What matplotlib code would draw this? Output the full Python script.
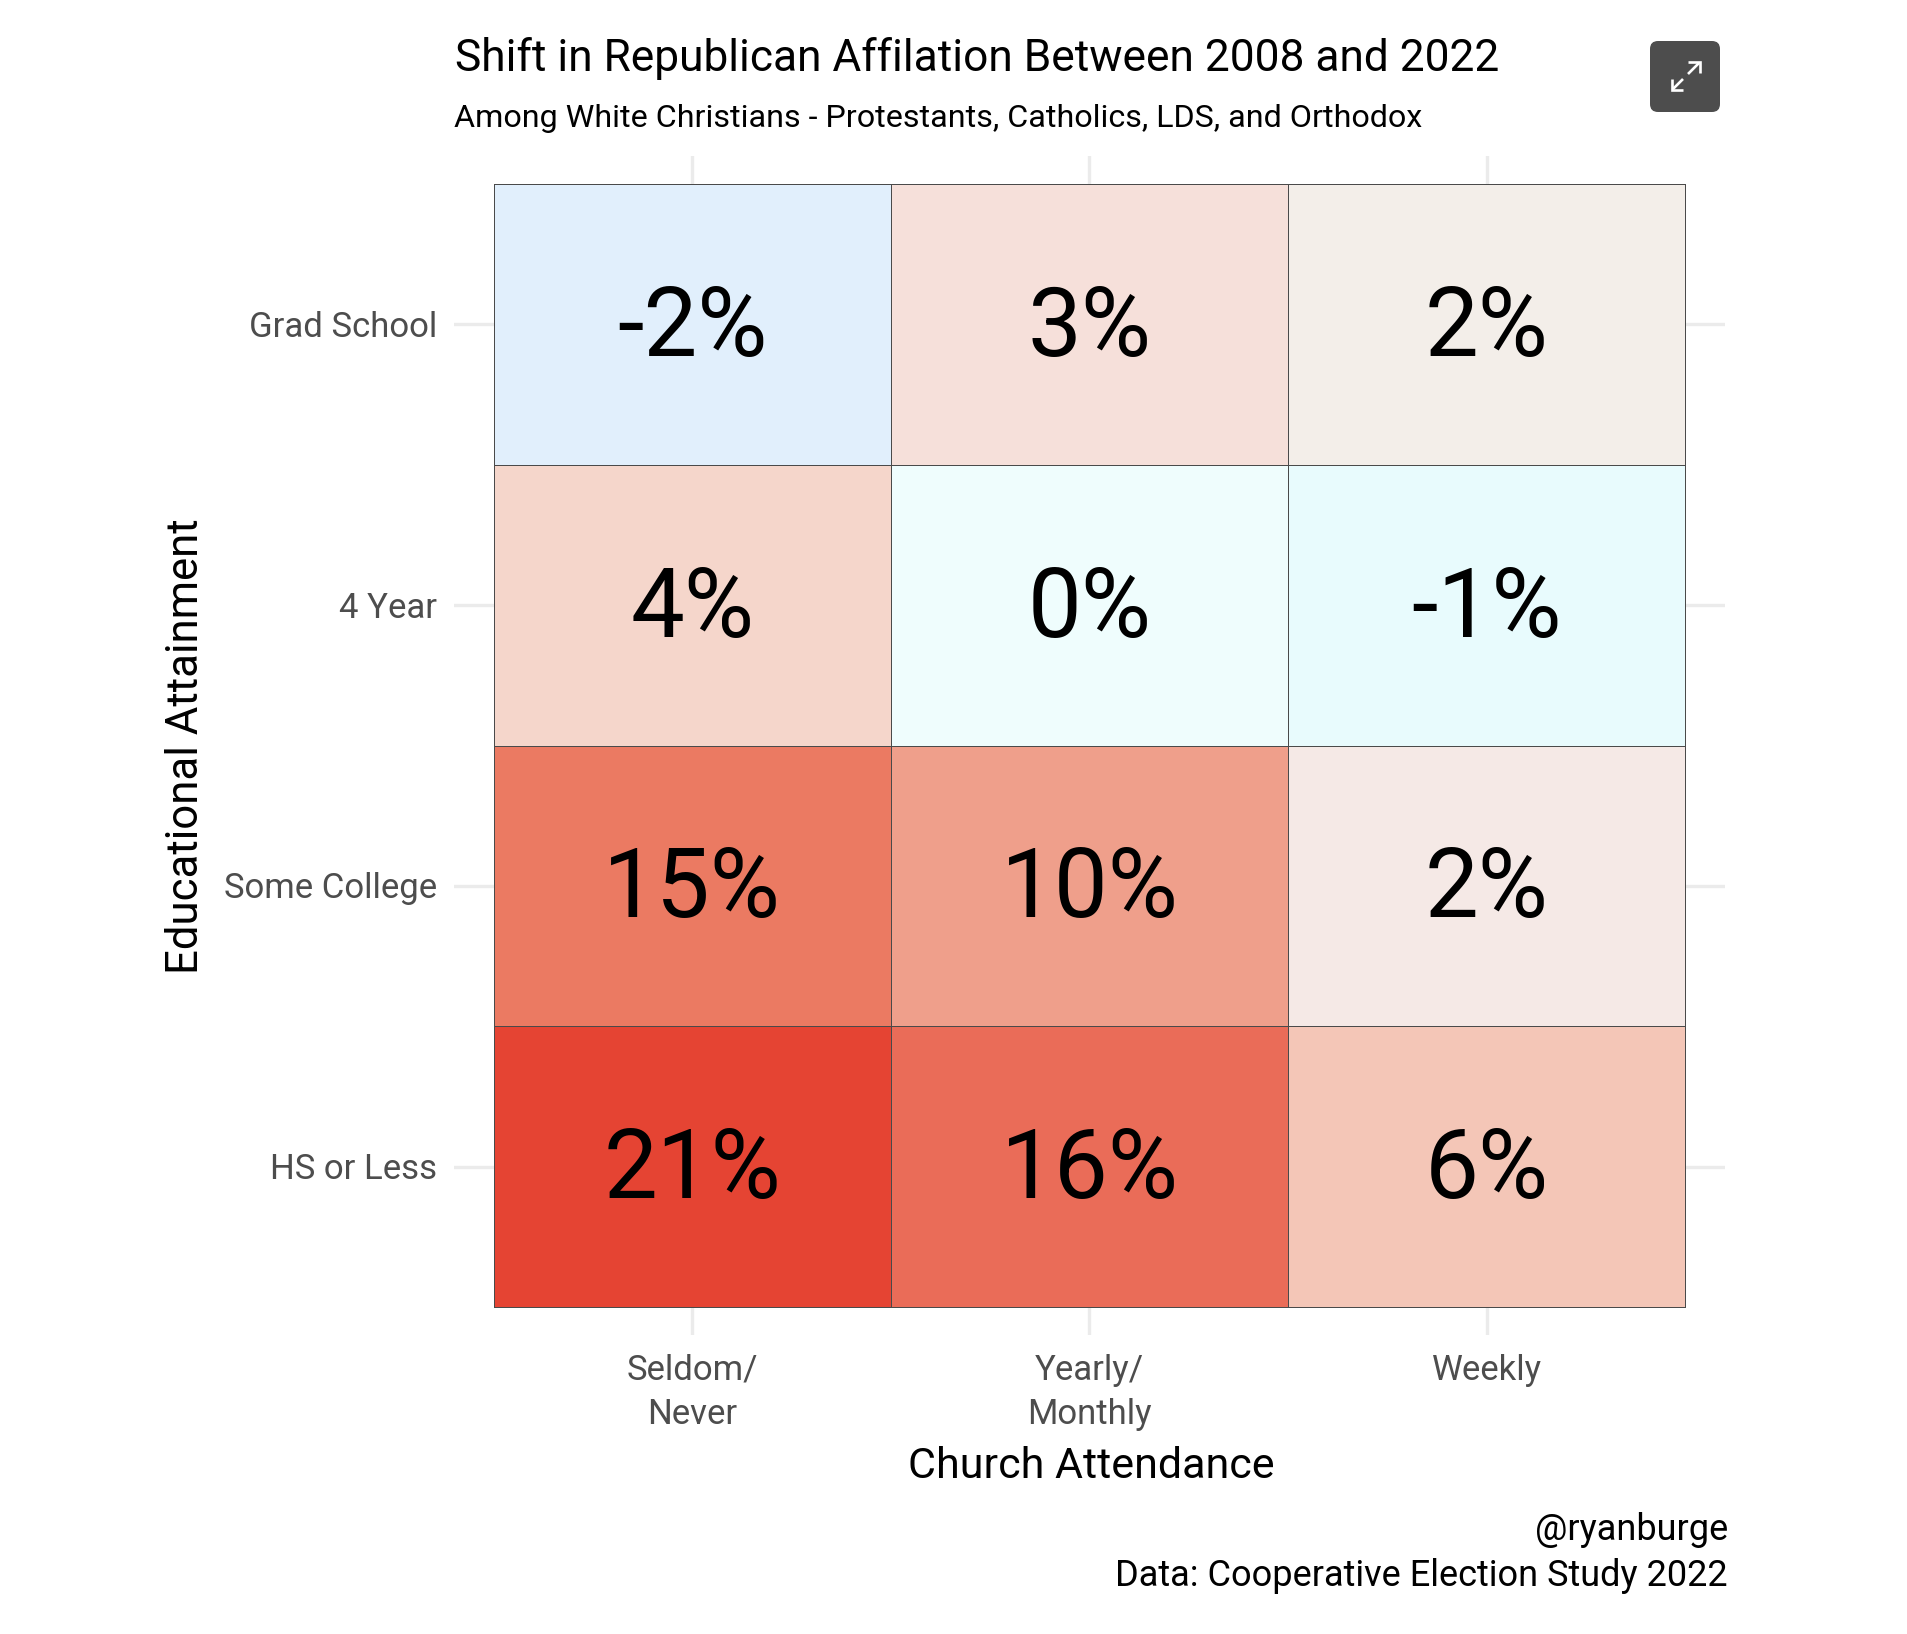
import matplotlib
matplotlib.use('Agg')
import matplotlib.pyplot as plt
from matplotlib.colors import ListedColormap
from matplotlib.patches import FancyBboxPatch
import numpy as np

# Datos
attendance = ['Seldom/\nNever', 'Yearly/\nMonthly', 'Weekly']
education = ['HS or Less', 'Some College', '4 Year', 'Grad School']
shift = [[21, 16, 6],
         [15, 10, 2],
         [4, 0, -1],
         [-2, 3, 2]]
cell_colors = [['#E54433', '#EA6C58', '#F4C6B7'],
               ['#EB7A62', '#EF9F8B', '#F5E9E6'],
               ['#F5D6CB', '#EFFDFD', '#E8FBFD'],
               ['#E1EFFC', '#F6E0DA', '#F3EEE9']]

title = 'Shift in Republican Affilation Between 2008 and 2022'
subtitle = 'Among White Christians - Protestants, Catholics, LDS, and Orthodox'
caption = '@ryanburge\nData: Cooperative Election Study 2022'

W, H = 1908, 1634
plt.rcParams['font.family'] = ['Roboto', 'DejaVu Sans']

fig = plt.figure(figsize=(W / 100, H / 100), dpi=100, facecolor='white')

# Ejes en pixeles del original
left, right, top, bottom = 454, 1725, 156, 1335
ax = fig.add_axes([left / W, 1 - bottom / H, (right - left) / W, (bottom - top) / H])
ax.set_xlim(-0.6, 2.6)
ax.set_ylim(-0.6, 3.6)
for s in ax.spines.values():
    s.set_visible(False)
ax.set_axisbelow(True)
ax.grid(True, color='#EBEBEB', lw=2.4)
ax.set_xticks(range(len(attendance)))
ax.set_yticks(range(len(education)))
ax.set_xticklabels([])
ax.set_yticklabels([])
ax.tick_params(length=0)

flat = [c for row in cell_colors for c in row]
idx = np.arange(len(flat)).reshape(len(education), len(attendance))
ax.pcolormesh(np.arange(len(attendance) + 1) - 0.5, np.arange(len(education) + 1) - 0.5, idx,
              cmap=ListedColormap(flat), edgecolors='#4A4A4A', linewidth=0.7, zorder=2)

for i, row in enumerate(shift):
    for j, v in enumerate(row):
        ax.annotate(f'{v}%', (j, i), xytext=(0, -4), textcoords='offset points',
                    ha='center', va='center', fontsize=69, color='black', zorder=3)

# Capa de texto en pixeles
ov = fig.add_axes([0, 0, 1, 1], facecolor='none')
ov.set_xlim(0, W)
ov.set_ylim(H, 0)
ov.axis('off')

ov.text(455, 71, title, fontsize=31.85, color='black', ha='left', va='baseline')
ov.text(454, 127, subtitle, fontsize=23.2, color='black', ha='left', va='baseline')

for x, lab in zip(ax.get_xticks(), attendance):
    px = left + (x + 0.6) / 3.2 * (right - left)
    ov.text(px, 1354, lab, fontsize=25, color='#4D4D4D', ha='center', va='top', linespacing=1.42)
for y, lab in zip(ax.get_yticks(), education):
    py = bottom - (y + 0.6) / 4.2 * (bottom - top)
    ov.text(437, py + 3, lab, fontsize=25, color='#4D4D4D', ha='right', va='center')

ov.text(1091, 1467, 'Church Attendance', fontsize=31, color='black', ha='center', va='center')
ov.text(186, 746, 'Educational Attainment', fontsize=31.5, color='black', ha='center', va='center', rotation=90)
ov.text(1728, 1553, caption, fontsize=26, color='black', ha='right', va='center', linespacing=1.35)

# Boton de expandir
ov.add_patch(FancyBboxPatch((1658, 49), 54, 55, boxstyle='round,pad=8,rounding_size=8',
                            fc='#4D4D4D', ec='none'))
arrows = [[(1688, 74), (1699, 63)], [(1688, 62), (1700, 62), (1700, 73)],
          [(1683, 79), (1673, 89)], [(1672, 79), (1672, 90), (1683, 90)]]
for a in arrows:
    xs, ys = zip(*a)
    ov.plot(xs, ys, color='white', lw=1.9, solid_joinstyle='miter', solid_capstyle='butt')

fig.savefig('out.png', dpi=100, facecolor='white')
